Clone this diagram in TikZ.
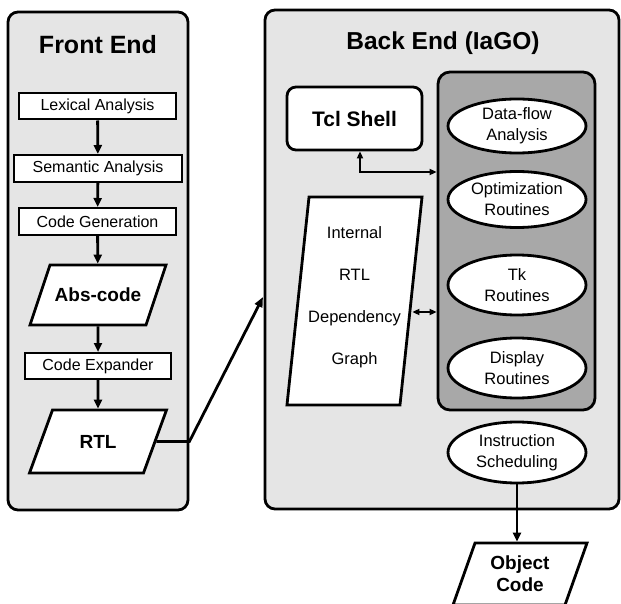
\documentclass[tikz,border=0pt]{standalone}
\usepackage{fontspec}
\setmainfont{Liberation Sans}
\usetikzlibrary{arrows.meta,shapes.geometric,positioning}
\definecolor{panelgray}{RGB}{229,229,229}
\definecolor{toolgray}{RGB}{168,168,168}

\tikzset{
  panel/.style={draw,line width=2.8pt,rounded corners=10pt,fill=panelgray,inner sep=0pt},
  stagebox/.style={draw,line width=2pt,fill=white,inner sep=0pt,minimum height=26pt,
    font=\fontsize{16}{19}\selectfont},
  dataframe/.style={draw,line width=2.8pt,fill=white,inner sep=0pt,transform shape},
  datatext/.style={align=center,font=\bfseries\fontsize{19}{22}\selectfont},
  routine/.style={ellipse,draw,line width=2.8pt,fill=white,inner sep=0pt,
    minimum width=138pt,minimum height=57pt,align=center,font=\fontsize{16.5}{21}\selectfont},
  flow/.style={line width=2.8pt,-{Triangle[length=9pt,width=8pt]}},
  linkflow/.style={line width=2.8pt,{Triangle[length=7pt,width=6pt]}-{Triangle[length=7pt,width=6pt]}}
}

\begin{document}
\begin{tikzpicture}[x=1pt,y=-1pt]
\useasboundingbox (0,0) rectangle (621,604);

% Panels
\node[panel,minimum width=180pt,minimum height=498pt] (front) at (98,261) {};
\node[panel,minimum width=354pt,minimum height=499pt] (back) at (442,259.5) {};
\node[font=\bfseries\fontsize{25}{30}\selectfont] (fronttitle) at (98,45) {Front End};
\node[font=\bfseries\fontsize{24.5}{30}\selectfont] (backtitle) at (443,43) {Back End (IaGO)};

% Front end stages
\node[stagebox,minimum width=157pt] (lex) at (97.5,106.5) {Lexical Analysis};
\node[stagebox,minimum width=168pt,minimum height=27pt] (sem) at (98,168.5) {Semantic Analysis};
\node[stagebox,minimum width=157pt,minimum height=27pt] (gen) at (97.5,221.5) {Code Generation};
\node[dataframe,minimum width=116pt,minimum height=60pt,shift={(98,295)},xslant=0.333] (abs) at (0,0) {};
\node[datatext] (abstext) at (abs) {Abs-code};
\node[stagebox,minimum width=146pt] (expand) at (98,366) {Code Expander};
\node[dataframe,minimum width=114pt,minimum height=63pt,shift={(98,441.5)},xslant=0.365] (rtl) at (0,0) {};
\node[datatext] (rtltext) at (rtl) {RTL};

\draw[flow] (lex) -- (sem);
\draw[flow] (sem) -- (gen);
\draw[flow] (gen) -- (abs);
\draw[flow] (abs) -- (expand);
\draw[flow] (expand) -- (rtl);

% Hand over to the back end
\coordinate (rtlbend) at (front.east |- rtl.east);
\coordinate (backentry) at (263,297);
\draw[line width=2.8pt,-{Triangle[length=10pt,width=8pt]}] (rtl.east) -- (rtlbend) -- (backentry);

% Back end
\node[draw,line width=2.8pt,rounded corners=12pt,fill=toolgray,minimum width=157pt,
      minimum height=338pt,inner sep=0pt] (tools) at (516.5,241) {};
\node[draw,line width=2.8pt,rounded corners=9pt,fill=white,minimum width=135pt,minimum height=63pt,
      inner sep=0pt,font=\bfseries\fontsize{21}{25}\selectfont] (tcl) at (354.5,118.5) {Tcl Shell};
\node[dataframe,minimum width=113pt,minimum height=208pt,shift={(354.5,301)},xslant=0.106] (graph) at (0,0) {};
\node[align=center,font=\fontsize{16.5}{42}\selectfont] (graphtext) at ([yshift=4pt]graph.center)
      {Internal\\RTL\\Dependency\\Graph};

\node[routine,minimum height=54pt] (dataflow) at (517,126) {Data-flow\\Analysis};
\node[routine,minimum height=56pt] (optim) at (517,199.5) {Optimization\\Routines};
\node[routine,minimum height=60pt] (tk) at (517,285) {Tk\\Routines};
\node[routine,minimum height=60pt] (display) at (517,368) {Display\\Routines};
\node[routine,minimum height=61pt] (sched) at (517,452.5) {Instruction\\Scheduling};

% Links to the routines
\coordinate (tclbend) at (360,172);
\draw[linkflow] (tcl.south -| tclbend) -- (tclbend) -- (tclbend -| tools.west);
\draw[linkflow] ([yshift=-11pt]graph.east) -- ([yshift=-11pt]graph.east -| tools.west);

% Output
\node[dataframe,minimum width=112pt,minimum height=62pt,shift={(520,574)},xslant=0.355] (obj) at (0,0) {};
\node[datatext] (objtext) at (obj) {Object\\Code};
\draw[flow] (sched.south) -- (sched.south |- obj.north);

\end{tikzpicture}
\end{document}
